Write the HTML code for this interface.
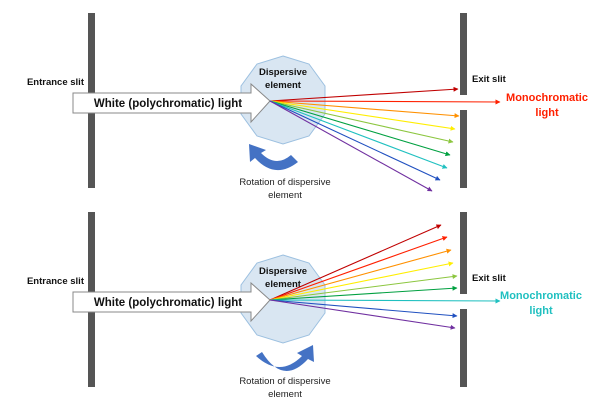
<!DOCTYPE html>
<html><head><meta charset="utf-8"><style>
html,body{margin:0;padding:0;background:#fff}
svg{display:block;font-family:"Liberation Sans",sans-serif}
.b{font-weight:bold;font-size:9.5px;fill:#111}
</style></head><body>
<svg width="610" height="407" viewBox="0 0 610 407" xmlns="http://www.w3.org/2000/svg">
<defs>
<marker id="m" viewBox="0 0 10 10" refX="9" refY="5" markerWidth="5" markerHeight="5" orient="auto-start-reverse" markerUnits="userSpaceOnUse"><path d="M0,0 L10,5 L0,10 z" fill="context-stroke"/></marker>
</defs>
<g id="top">
<!-- slits -->
<rect x="88" y="13" width="7" height="175" fill="#555"/>
<rect x="460" y="13" width="7" height="82" fill="#555"/>
<rect x="460" y="110" width="7" height="78" fill="#555"/>
<text x="84" y="85" class="b" text-anchor="end">Entrance slit</text>
<text x="472" y="82" class="b">Exit slit</text>
<!-- decagon -->
<polygon points="283,56 309,64 325,86 325,114 309,136 283,144 257,136 241,114 241,86 257,64" fill="#d9e6f2" stroke="#9cc0e0" stroke-width="1"/>
<text x="283" y="75" class="b" text-anchor="middle" font-size="10">Dispersive</text>
<text x="283" y="88" class="b" text-anchor="middle" font-size="10">element</text>
<!-- big arrow -->
<polygon points="73,93 251,93 251,84 270,101 251,122 251,113 73,113" fill="#fff" stroke="#888" stroke-width="1"/>
<text x="168" y="107" text-anchor="middle" font-weight="bold" font-size="11.5px" fill="#111">White (polychromatic) light</text>
<!-- rays -->
<g stroke-width="1.1" fill="none">
<line x1="270" y1="101" x2="458" y2="89" stroke="#c00000" marker-end="url(#m)"/>
<line x1="270" y1="101" x2="500" y2="102" stroke="#ff2000" marker-end="url(#m)"/>
<line x1="270" y1="101" x2="459" y2="116" stroke="#ff9000" marker-end="url(#m)"/>
<line x1="270" y1="101" x2="455" y2="129" stroke="#ffee00" marker-end="url(#m)"/>
<line x1="270" y1="101" x2="453" y2="142" stroke="#8cc63f" marker-end="url(#m)"/>
<line x1="270" y1="101" x2="450" y2="155" stroke="#00a040" marker-end="url(#m)"/>
<line x1="270" y1="101" x2="447" y2="168" stroke="#20c0c0" marker-end="url(#m)"/>
<line x1="270" y1="101" x2="440" y2="180" stroke="#2050c0" marker-end="url(#m)"/>
<line x1="270" y1="101" x2="432" y2="191" stroke="#7030a0" marker-end="url(#m)"/>
</g>
<text x="547" y="101" text-anchor="middle" font-weight="bold" font-size="11px" fill="#ff2000">Monochromatic</text>
<text x="547" y="116" text-anchor="middle" font-weight="bold" font-size="11px" fill="#ff2000">light</text>
<!-- rotation arrow -->
<path d="M298,162 Q275,180 255,158 L250,162 L249,144 L266,150 L261,153 Q276,168 291,155 Z" fill="#4472c4"/>
<text x="285" y="185" text-anchor="middle" font-size="9.5px" fill="#222">Rotation of dispersive</text>
<text x="285" y="198" text-anchor="middle" font-size="9.5px" fill="#222">element</text>
</g>
<g id="bottom">
<rect x="88" y="212" width="7" height="175" fill="#555"/>
<rect x="460" y="212" width="7" height="82" fill="#555"/>
<rect x="460" y="309" width="7" height="78" fill="#555"/>
<text x="84" y="284" class="b" text-anchor="end">Entrance slit</text>
<text x="472" y="281" class="b">Exit slit</text>
<polygon points="283,255 309,263 325,285 325,313 309,335 283,343 257,335 241,313 241,285 257,263" fill="#d9e6f2" stroke="#9cc0e0" stroke-width="1"/>
<text x="283" y="274" class="b" text-anchor="middle" font-size="10">Dispersive</text>
<text x="283" y="287" class="b" text-anchor="middle" font-size="10">element</text>
<polygon points="73,292 251,292 251,283 270,300 251,321 251,312 73,312" fill="#fff" stroke="#888" stroke-width="1"/>
<text x="168" y="306" text-anchor="middle" font-weight="bold" font-size="11.5px" fill="#111">White (polychromatic) light</text>
<g stroke-width="1.1" fill="none">
<line x1="270" y1="300" x2="441" y2="225" stroke="#c00000" marker-end="url(#m)"/>
<line x1="270" y1="300" x2="447" y2="237" stroke="#ff2000" marker-end="url(#m)"/>
<line x1="270" y1="300" x2="451" y2="250" stroke="#ff9000" marker-end="url(#m)"/>
<line x1="270" y1="300" x2="453" y2="263" stroke="#ffee00" marker-end="url(#m)"/>
<line x1="270" y1="300" x2="457" y2="276" stroke="#8cc63f" marker-end="url(#m)"/>
<line x1="270" y1="300" x2="457" y2="288" stroke="#00a040" marker-end="url(#m)"/>
<line x1="270" y1="300" x2="500" y2="301" stroke="#20c0c0" marker-end="url(#m)"/>
<line x1="270" y1="300" x2="457" y2="316" stroke="#2050c0" marker-end="url(#m)"/>
<line x1="270" y1="300" x2="455" y2="328" stroke="#7030a0" marker-end="url(#m)"/>
</g>
<text x="541" y="299" text-anchor="middle" font-weight="bold" font-size="11px" fill="#20c0c0">Monochromatic</text>
<text x="541" y="314" text-anchor="middle" font-weight="bold" font-size="11px" fill="#20c0c0">light</text>
<path d="M256,356 Q280,378 302,356 L297,353 L313,345 L314,362 L308,359 Q283,386 262,352 Z" fill="#4472c4"/>
<text x="285" y="384" text-anchor="middle" font-size="9.5px" fill="#222">Rotation of dispersive</text>
<text x="285" y="397" text-anchor="middle" font-size="9.5px" fill="#222">element</text>
</g>
</svg>
</body></html>
